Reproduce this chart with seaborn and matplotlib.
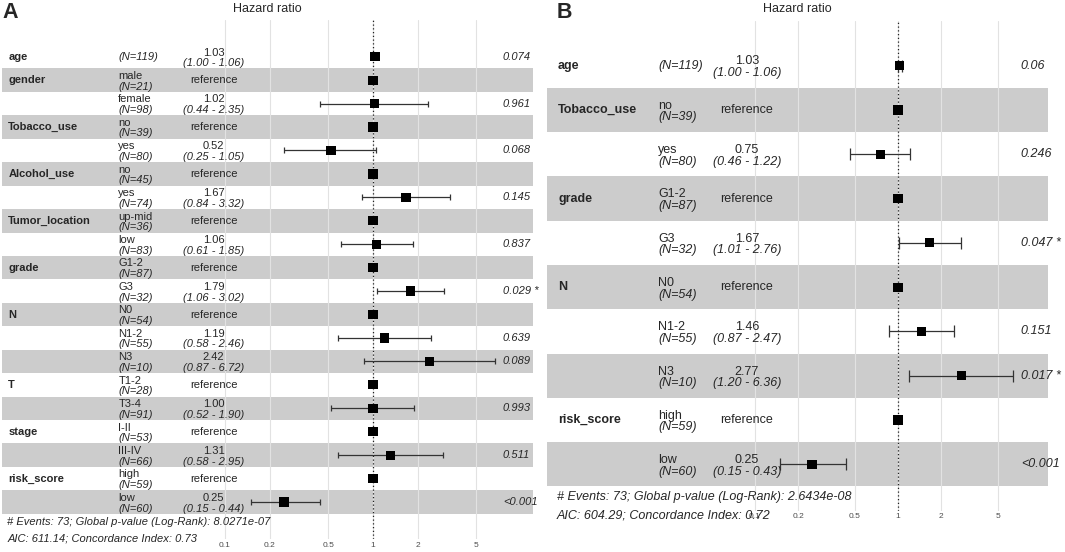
import numpy as np
import pandas as pd
import matplotlib
matplotlib.use("Agg")
import matplotlib.pyplot as plt
import matplotlib.transforms as mtransforms
import seaborn as sns

nan = np.nan

# ---- panel A data ----
a_vars = ["age", "gender", "", "Tobacco_use", "", "Alcohol_use", "", "Tumor_location", "",
          "grade", "", "N", "", "", "T", "", "stage", "", "risk_score", ""]
a_levels = ["", "male", "female", "no", "yes", "no", "yes", "up-mid", "low", "G1-2", "G3",
            "N0", "N1-2", "N3", "T1-2", "T3-4", "I-II", "III-IV", "high", "low"]
a_n = [119, 21, 98, 39, 80, 45, 74, 36, 83, 87, 32, 54, 55, 10, 28, 91, 53, 66, 59, 60]
a_hr = [1.03, 1, 1.02, 1, 0.52, 1, 1.67, 1, 1.06, 1, 1.79, 1, 1.19, 2.42, 1, 1.00, 1, 1.31, 1, 0.25]
a_lo = [1.00, nan, 0.44, nan, 0.25, nan, 0.84, nan, 0.61, nan, 1.06, nan, 0.58, 0.87, nan, 0.52,
        nan, 0.58, nan, 0.15]
a_hi = [1.06, nan, 2.35, nan, 1.05, nan, 3.32, nan, 1.85, nan, 3.02, nan, 2.46, 6.72, nan, 1.90,
        nan, 2.95, nan, 0.44]
a_p = ["0.074", "", "0.961", "", "0.068", "", "0.145", "", "0.837", "", "0.029 *", "", "0.639",
       "0.089", "", "0.993", "", "0.511", "", "<0.001"]
a_footer = ["# Events: 73; Global p-value (Log-Rank): 8.0271e-07",
            "AIC: 611.14; Concordance Index: 0.73"]

# ---- panel B data ----
b_vars = ["age", "Tobacco_use", "", "grade", "", "N", "", "", "risk_score", ""]
b_levels = ["", "no", "yes", "G1-2", "G3", "N0", "N1-2", "N3", "high", "low"]
b_n = [119, 39, 80, 87, 32, 54, 55, 10, 59, 60]
b_hr = [1.03, 1, 0.75, 1, 1.67, 1, 1.46, 2.77, 1, 0.25]
b_lo = [1.00, nan, 0.46, nan, 1.01, nan, 0.87, 1.20, nan, 0.15]
b_hi = [1.06, nan, 1.22, nan, 2.76, nan, 2.47, 6.36, nan, 0.43]
b_p = ["0.06", "", "0.246", "", "0.047 *", "", "0.151", "0.017 *", "", "<0.001"]
b_footer = ["# Events: 73; Global p-value (Log-Rank): 2.6434e-08",
            "AIC: 604.29; Concordance Index: 0.72"]

ticks = [0.1, 0.2, 0.5, 1, 2, 5]
tick_labels = ["0.1", "0.2", "0.5", "1", "2", "5"]

W, H = 1065, 552


def draw_panel(fig, data, lay):
    df = pd.DataFrame(data)
    df["row"] = np.arange(len(df))
    left, right, top, bottom = lay["box"]
    ax = fig.add_axes([left / W, 1 - bottom / H, (right - left) / W, (bottom - top) / H])
    ax.set_xscale("log")
    ax.set_xlim(10 ** ((left - lay["x_one"]) / lay["decade"]),
                10 ** ((right - lay["x_one"]) / lay["decade"]))
    y0, step = lay["y_first"], lay["step"]
    ax.set_ylim((bottom - y0) / step, (top - y0) / step)

    # alternating stripes
    for r in df["row"]:
        if r % 2 == 1:
            ax.axhspan(r - 0.5, r + 0.5, color="#cccccc", lw=0, zorder=0)
    for t in ticks:
        ax.axvline(t, color="#e2e2e2", lw=0.8, zorder=1)
    ax.axvline(1, color="#222222", lw=0.9, ls=(0, (1, 2)), zorder=2)

    est = df.dropna(subset=["lo"])
    ax.errorbar(est["hr"], est["row"], xerr=[est["hr"] - est["lo"], est["hi"] - est["hr"]],
                fmt="none", ecolor="#333333", elinewidth=0.9, capsize=lay["capsize"],
                capthick=0.9, zorder=3)
    sns.scatterplot(data=df, x="hr", y="row", marker="s", s=lay["msize"], color="black",
                    edgecolor="none", ax=ax, zorder=4, legend=False)

    ax.set_xticks(ticks)
    ax.set_xticklabels(tick_labels)
    ax.minorticks_off()
    ax.tick_params(axis="x", length=0, labelsize=6, labelcolor="#4d4d4d", pad=lay["pad"])
    ax.set_yticks([])
    ax.set_xlabel("")
    ax.set_ylabel("")
    for s in ax.spines.values():
        s.set_visible(False)

    fs = lay["fs"]
    cap = fs * 100 / 72 * 0.716
    bt = mtransforms.blended_transform_factory(ax.transAxes, ax.transData)
    up = mtransforms.offset_copy(bt, fig=fig, x=0, y=1.2, units="dots")
    down = mtransforms.offset_copy(bt, fig=fig, x=0, y=-(cap + 1.5), units="dots")
    cx = lay["cols"]
    for _, r in df.iterrows():
        y = r["row"]
        if r["var"]:
            ax.text(cx[0], y, r["var"], transform=bt, fontsize=fs, fontweight="bold",
                    ha="left", va="center")
        ntxt = "(N=%d)" % r["n"]
        if r["level"]:
            ax.text(cx[1], y, r["level"], transform=up, fontsize=fs, ha="left", va="baseline")
            ax.text(cx[1], y, ntxt, transform=down, fontsize=fs, style="italic",
                    ha="left", va="baseline")
        else:
            ax.text(cx[1], y, ntxt, transform=bt, fontsize=fs, style="italic",
                    ha="left", va="center")
        if np.isnan(r["lo"]):
            ax.text(cx[2], y, "reference", transform=bt, fontsize=fs, ha="center", va="center")
        else:
            ax.text(cx[2], y, "%.2f" % r["hr"], transform=up, fontsize=fs, ha="center",
                    va="baseline")
            ax.text(cx[2], y, "(%.2f - %.2f)" % (r["lo"], r["hi"]), transform=down,
                    fontsize=fs, style="italic", ha="center", va="baseline", zorder=5)
        if r["p"]:
            ax.text(cx[3], y, r["p"], transform=bt, fontsize=fs, style="italic",
                    ha="left", va="center", clip_on=False)

    for txt, py in zip(lay["footer"], lay["footer_y"]):
        ax.text(cx[4], (py - y0) / step, txt, transform=bt, fontsize=fs, style="italic",
                ha="left", va="center", clip_on=False)

    fig.text((left + right) / 2 / W, 1 - lay["title_y"] / H, "Hazard ratio", fontsize=9,
             ha="center", va="center")
    fig.text(lay["letter_x"] / W, 1 - lay["letter_y"] / H, lay["letter"], fontsize=15.5,
             fontweight="bold", ha="left", va="center")
    return ax


def main():
    sns.set_style("white")
    plt.rcParams["font.family"] = ["Liberation Sans", "DejaVu Sans"]
    fig = plt.figure(figsize=(W / 100, H / 100), dpi=100)

    data_a = {"var": a_vars, "level": a_levels, "n": a_n, "hr": a_hr, "lo": a_lo,
              "hi": a_hi, "p": a_p}
    lay_a = {"box": (2, 533, 20, 539), "x_one": 373, "decade": 148, "y_first": 56.7,
             "step": 23.44, "fs": 8, "cols": [0.012, 0.219, 0.3987, 0.9435, 0.010],
             "capsize": 2.2, "msize": 44, "pad": 2.0, "footer": a_footer,
             "footer_y": [521.7, 538.5], "title_y": 8.5, "letter": "A",
             "letter_x": 2, "letter_y": 12}
    data_b = {"var": b_vars, "level": b_levels, "n": b_n, "hr": b_hr, "lo": b_lo,
              "hi": b_hi, "p": b_p}
    lay_b = {"box": (547, 1048, 20.5, 511), "x_one": 898, "decade": 143, "y_first": 65.7,
             "step": 44.29, "fs": 9, "cols": [0.022, 0.2216, 0.399, 0.946, 0.020],
             "capsize": 4.5, "msize": 44, "pad": 1.5, "footer": b_footer,
             "footer_y": [496.7, 515], "title_y": 9.2, "letter": "B",
             "letter_x": 557, "letter_y": 13}

    draw_panel(fig, data_a, lay_a)
    draw_panel(fig, data_b, lay_b)
    fig.savefig("out.png", dpi=100)


if __name__ == "__main__":
    main()
